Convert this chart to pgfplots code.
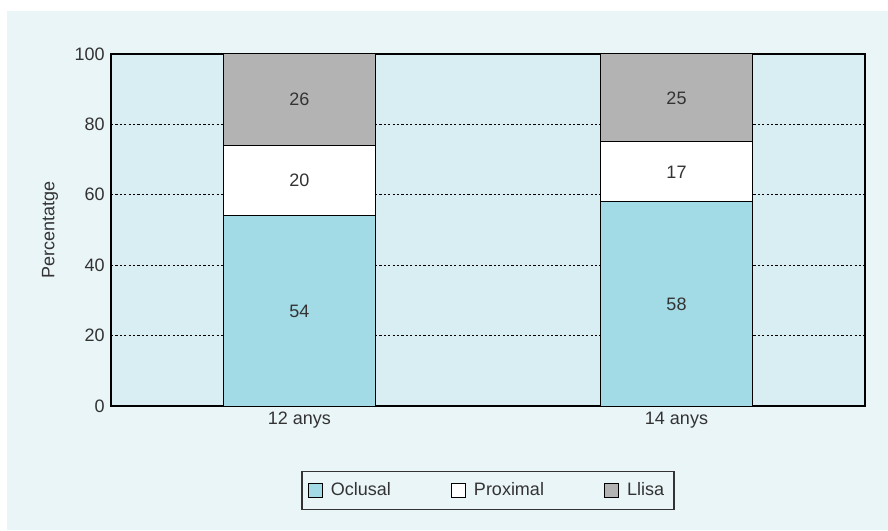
\documentclass[border=0pt]{standalone}
\usepackage{pgfplots}
\usepackage{pgfplotstable}
\pgfplotsset{compat=1.18}
\usepackage{fontspec}
\setmainfont{Liberation Sans}
\definecolor{outerbg}{HTML}{EAF5F8}
\definecolor{plotbg}{HTML}{D8EEF3}
\definecolor{ocl}{HTML}{A2DAE5}
\definecolor{lli}{HTML}{B3B3B3}
\definecolor{txt}{HTML}{333333}
\pgfplotstableread{
x ocl pro lli
0 54 20 26
1 58 17 25
}\data
\begin{document}
\fontsize{9}{10.8}\selectfont
\begin{tikzpicture}
\useasboundingbox (-55.5pt,-62pt) rectangle (388.5pt,203pt);
\fill[white] (-55.5pt,-62pt) rectangle (388.5pt,203pt);
\fill[outerbg] (-52pt,-62pt) rectangle (388.5pt,197.5pt);
\begin{axis}[
  at={(0pt,0pt)}, anchor=south west,
  scale only axis, width=377pt, height=176pt,
  ybar stacked, bar width=76pt,
  xmin=-0.5, xmax=1.5, ymin=0, ymax=100,
  axis background/.style={fill=plotbg},
  axis line style={black, line width=0.6pt},
  xtick={0,1}, xticklabels={12 anys,14 anys},
  major x tick style={draw=none},
  extra x ticks={0.5}, extra x tick labels={},
  extra x tick style={major tick length=3.5pt, tick style={black, line width=0.6pt, draw=black}},
  ytick={0,20,40,60,80,100},
  major y tick style={draw=none},
  ymajorgrids, major grid style={black, dash pattern=on 1.1pt off 1.1pt, line width=0.5pt},
  tick align=inside,
  /pgf/number format/assume math mode=true,
  ticklabel style={text=txt, font=\fontsize{9}{10.8}\selectfont},
  ylabel={Percentatge},
  ylabel style={at={(axis description cs:0,0.5)}, anchor=center, yshift=30.5pt, text=txt, font=\fontsize{9}{10.8}\selectfont},
  nodes near coords,
  every node near coord/.append style={anchor=center, text=txt, font=\fontsize{9}{10.8}\selectfont},
  legend columns=3,
  legend style={at={(axis description cs:0.5,0)}, anchor=north, yshift=-32.5pt,
    draw=txt, line width=0.6pt, fill=outerbg, text=txt, inner xsep=3pt, inner ysep=3.5pt,
    font=\fontsize{9}{10.8}\selectfont,
    /tikz/every even column/.append style={column sep=28pt}},
  legend image code/.code={\draw[#1, draw=black, line width=0.5pt] (0pt,-3.5pt) rectangle (7pt,3.5pt); \path (9pt,0pt);},
  legend cell align=left,
]
\addplot[fill=ocl, draw=black, line width=0.5pt] table[x=x, y=ocl] {\data};
\addplot[fill=white, draw=black, line width=0.5pt] table[x=x, y=pro] {\data};
\addplot[fill=lli, draw=black, line width=0.5pt] table[x=x, y=lli] {\data};
\legend{Oclusal,Proximal,Llisa}
\end{axis}
\end{tikzpicture}
\end{document}
